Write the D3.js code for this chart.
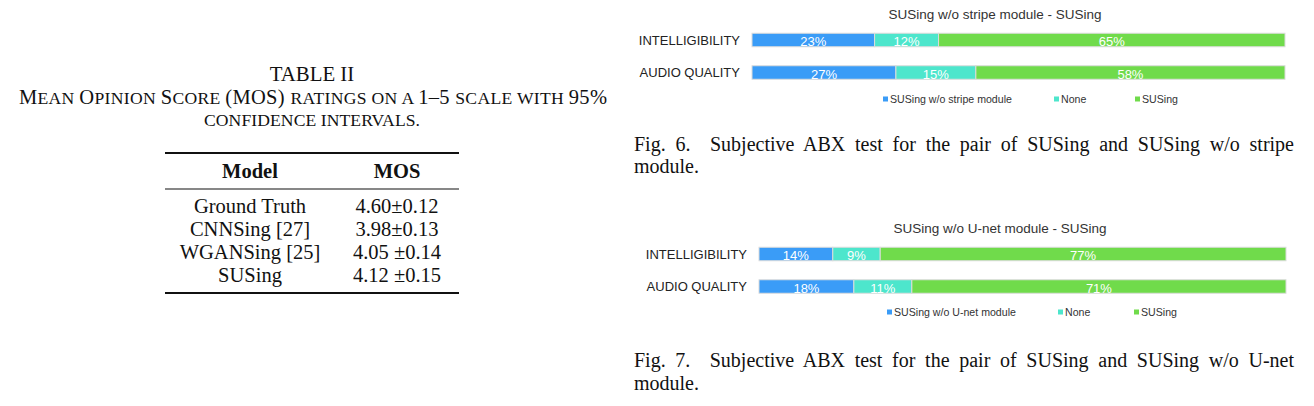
<!DOCTYPE html>
<html>
<head>
<meta charset="utf-8">
<script src="https://cdn.jsdelivr.net/npm/d3@7"></script>
<style>
  html, body { margin: 0; padding: 0; background: #fff; }
  svg { display: block; }
</style>
</head>
<body>
<svg id="page" width="1314" height="406"></svg>
<script>
// ---------- DATA ----------
const categories = ["INTELLIGIBILITY", "AUDIO QUALITY"];
const seriesNamesFig6 = ["SUSing w/o stripe module", "None", "SUSing"];
const fig6WithoutStripe = [23, 27];
const fig6None = [12, 15];
const fig6SUSing = [65, 58];

const seriesNamesFig7 = ["SUSing w/o U-net module", "None", "SUSing"];
const fig7WithoutUnet = [14, 18];
const fig7None = [9, 11];
const fig7SUSing = [77, 71];

const tableModels = ["Ground Truth", "CNNSing [27]", "WGANSing [25]", "SUSing"];
const tableMOS = ["4.60\u00B10.12", "3.98\u00B10.13", "4.05 \u00B10.14", "4.12 \u00B10.15"];

// ---------- SETUP ----------
const svg = d3.select("#page");
const colors = ["#3a9cf7", "#4de6cc", "#70db4b"];
const sans = "'Liberation Sans', Arial, Helvetica, sans-serif";
const serif = "'Liberation Serif', 'Times New Roman', Times, serif";

// ---------- TABLE ----------
const tg = svg.append("g");
tg.append("text").attr("x", 312).attr("y", 81).attr("text-anchor", "middle")
  .attr("font-family", serif).attr("font-size", 20.8).attr("fill", "#111").text("TABLE II");

function smallCaps(g, x, y, anchor, parts, width) {
  const t = g.append("text").attr("x", x).attr("y", y).attr("text-anchor", anchor)
    .attr("font-family", serif).attr("fill", "#111");
  parts.forEach(p => {
    t.append("tspan").attr("font-size", p[1] ? 20.5 : 17.6).text(p[0]);
  });
  if (width) t.attr("textLength", width).attr("lengthAdjust", "spacing");
  return t;
}
smallCaps(tg, 313, 104, "middle", [
  ["M", 1], ["EAN ", 0], ["O", 1], ["PINION ", 0], ["S", 1], ["CORE ", 0],
  ["(MOS) ", 1], ["RATINGS ON A ", 0], ["1\u20135 ", 1], ["SCALE WITH ", 0], ["95%", 1]
], 588);
smallCaps(tg, 312, 126, "middle", [["CONFIDENCE INTERVALS.", 0]], 216);

const colX = [250, 397];
tg.append("line").attr("x1", 165).attr("x2", 459).attr("y1", 153).attr("y2", 153)
  .attr("stroke", "#111").attr("stroke-width", 2);
tg.append("line").attr("x1", 165).attr("x2", 459).attr("y1", 189).attr("y2", 189)
  .attr("stroke", "#111").attr("stroke-width", 1.1);
tg.append("line").attr("x1", 165).attr("x2", 459).attr("y1", 293).attr("y2", 293)
  .attr("stroke", "#111").attr("stroke-width", 2);
["Model", "MOS"].forEach((h, i) => {
  tg.append("text").attr("x", colX[i]).attr("y", 178).attr("text-anchor", "middle")
    .attr("font-family", serif).attr("font-size", 20.5).attr("font-weight", "bold")
    .attr("fill", "#111").text(h);
});
const rowY = d3.scalePoint().domain(tableModels).range([213, 281.5]);
tableModels.forEach((m, i) => {
  tg.append("text").attr("x", colX[0]).attr("y", rowY(m)).attr("text-anchor", "middle")
    .attr("font-family", serif).attr("font-size", 20.5).attr("fill", "#111").text(m);
  tg.append("text").attr("x", colX[1]).attr("y", rowY(m)).attr("text-anchor", "middle")
    .attr("font-family", serif).attr("font-size", 20.5).attr("fill", "#111").text(tableMOS[i]);
});

// ---------- STACKED BAR CHARTS ----------
function drawChart(cfg) {
  const g = svg.append("g");
  const x = d3.scaleLinear().domain([0, 100]).range([cfg.x0, cfg.x1]);
  const y = d3.scalePoint().domain(categories).range(cfg.yRange);
  const rows = categories.map((c, i) => {
    const o = { cat: c };
    cfg.keys.forEach((k, j) => o[k] = cfg.series[j][i]);
    return o;
  });
  const stacked = d3.stack().keys(cfg.keys)(rows);
  const bh = 13.5;

  g.append("text").attr("x", cfg.titleX).attr("y", cfg.titleY).attr("text-anchor", "middle")
    .attr("font-family", sans).attr("font-size", 13.5).attr("fill", "#333").text(cfg.title);

  g.selectAll("text.cat").data(categories).join("text").attr("class", "cat")
    .attr("x", cfg.x0 - 12).attr("y", d => y(d)).attr("dy", "0.35em")
    .attr("text-anchor", "end").attr("font-family", sans).attr("font-size", 13)
    .attr("fill", "#222").text(d => d);

  stacked.forEach((layer, j) => {
    g.selectAll(null).data(layer).join("rect")
      .attr("x", d => x(d[0])).attr("width", d => x(d[1]) - x(d[0]))
      .attr("y", d => y(d.data.cat) - bh / 2).attr("height", bh)
      .attr("fill", colors[j]).attr("stroke", "#dcdcdc").attr("stroke-width", 1);
    g.selectAll(null).data(layer).join("text")
      .attr("x", d => (x(d[0]) + x(d[1])) / 2).attr("y", d => y(d.data.cat) + 1.5)
      .attr("dy", "0.35em").attr("text-anchor", "middle")
      .attr("font-family", sans).attr("font-size", 13).attr("fill", "#fff")
      .text(d => (d[1] - d[0]) + "%");
  });

  cfg.names.forEach((n, j) => {
    g.append("rect").attr("x", cfg.legendX[j]).attr("y", cfg.legendY - 2.5)
      .attr("width", 5).attr("height", 5).attr("fill", colors[j]);
    g.append("text").attr("x", cfg.legendX[j] + 7).attr("y", cfg.legendY).attr("dy", "0.35em")
      .attr("font-family", sans).attr("font-size", 10.6).attr("fill", "#333").text(n);
  });
}

drawChart({
  title: "SUSing w/o stripe module - SUSing", titleX: 995, titleY: 19,
  x0: 752, x1: 1285, yRange: [40, 72.5],
  keys: ["a", "b", "c"], series: [fig6WithoutStripe, fig6None, fig6SUSing],
  names: seriesNamesFig6, legendX: [883, 1054, 1135], legendY: 99
});
drawChart({
  title: "SUSing w/o U-net module - SUSing", titleX: 1000, titleY: 233,
  x0: 759, x1: 1286, yRange: [254, 286.5],
  keys: ["a", "b", "c"], series: [fig7WithoutUnet, fig7None, fig7SUSing],
  names: seriesNamesFig7, legendX: [887, 1058, 1134], legendY: 312
});

// ---------- FIGURE CAPTIONS (justified first line) ----------
function caption(line1, line2, x0, x1, y1, y2) {
  const t = svg.append("text").attr("x", x0).attr("y", y1)
    .attr("font-family", serif).attr("font-size", 20).attr("fill", "#111")
    .attr("xml:space", "preserve").text(line1);
  const natural = t.node().getComputedTextLength();
  const spaces = (line1.match(/ /g) || []).length;
  t.attr("word-spacing", (x1 - x0 - natural) / spaces);
  svg.append("text").attr("x", x0).attr("y", y2)
    .attr("font-family", serif).attr("font-size", 20).attr("fill", "#111").text(line2);
}
caption("Fig. 6.  Subjective ABX test for the pair of SUSing and SUSing w/o stripe", "module.",
  634, 1294, 151, 173);
caption("Fig. 7.  Subjective ABX test for the pair of SUSing and SUSing w/o U-net", "module.",
  634, 1294, 367, 390);
</script>
</body>
</html>
